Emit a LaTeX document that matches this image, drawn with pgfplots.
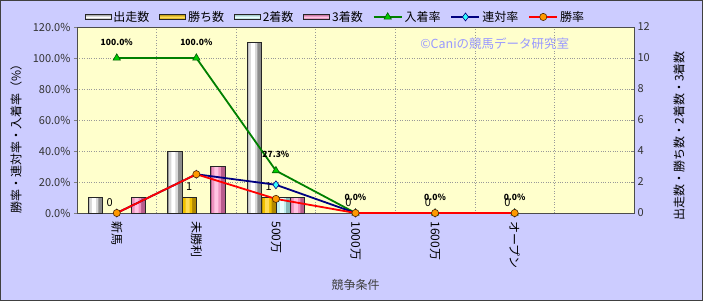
\documentclass[border=0pt]{standalone}
\usepackage{fontspec}
\setmainfont{Noto Sans CJK JP}
\usepackage{pgfplots}
\pgfplotsset{compat=1.18}
\definecolor{bgpurple}{HTML}{CCCCFF}
\definecolor{plotbg}{HTML}{FFFFCC}
\definecolor{grayE}{HTML}{8C8C8C}
\definecolor{grayM}{HTML}{D8D8D8}
\definecolor{grayL}{HTML}{FFFFFF}
\definecolor{goldE}{HTML}{B08800}
\definecolor{goldM}{HTML}{F0C000}
\definecolor{goldL}{HTML}{FFDD55}
\definecolor{cyanE}{HTML}{88B8B8}
\definecolor{cyanM}{HTML}{C4F0F0}
\definecolor{cyanL}{HTML}{EAFFFF}
\definecolor{pinkE}{HTML}{B85C8C}
\definecolor{pinkM}{HTML}{EE94C0}
\definecolor{pinkL}{HTML}{FFC4E2}
\definecolor{lgreen}{HTML}{00CC00}
\definecolor{dgreen}{HTML}{008000}
\definecolor{navy}{HTML}{000080}
\definecolor{lcyan}{HTML}{33FFFF}
\definecolor{lorange}{HTML}{FF9900}
\definecolor{copyc}{HTML}{9999FF}
\pgfplotsset{
 linelegend/.style={legend image code/.code={\draw[mark repeat=2,mark phase=2,##1] plot coordinates {(0bp,0bp) (14bp,0bp) (28bp,0bp)};}},
 barlegend/.style={legend image code/.code={\draw[##1] (0bp,-2.8bp) rectangle (26bp,2.8bp);}},
}
% shift, shift of highlight, edge, mid, light, coordinates
\newcommand\cylbar[6]{%
\addplot[bar shift=#1, bar width=14.3bp, draw=none, fill=#3] coordinates {#6};
\addplot[bar shift=#2, bar width=9bp, draw=none, fill=#4] coordinates {#6};
\addplot[bar shift=#2, bar width=4bp, draw=none, fill=#5] coordinates {#6};
\addplot[bar shift=#1, bar width=14.3bp, draw=black!85, line width=0.7bp, fill=none] coordinates {#6};
}
\begin{document}
\begin{tikzpicture}[font=\fontsize{11bp}{13bp}\selectfont]
\path[use as bounding box, fill=bgpurple] (-77bp,-88bp) rectangle (626bp,213bp);
\draw[line width=1.5bp, black!75] (-76.25bp,-87.25bp) rectangle (625.25bp,212.25bp);
\begin{axis}[
 at={(0,0)}, anchor=south west, scale only axis, width=557bp, height=186bp,
 xmin=-0.5, xmax=6.5, ymin=0, ymax=12,
 axis background/.style={fill=plotbg},
 axis line style={draw=black!70, line width=0.8bp},
 ybar=0pt, bar width=14.3bp,
 xtick={0,1,2,3,4,5}, xticklabels={新馬,未勝利,500万,1000万,1600万,オープン},
 x tick label style={rotate=-90, anchor=west, xshift=5bp, font=\fontsize{12bp}{14bp}\selectfont, text=black},
 major x tick style={draw=none},
 minor xtick={0.5,1.5,2.5,3.5,4.5,5.5}, minor x tick style={draw=none}, xminorgrids,
 ytick={0,2,...,12}, ytick pos=right, yticklabel pos=right, ymajorgrids,
 tick align=inside, major tick length=3bp,
 y tick label style={text=black!80},
 grid style={draw=gray!80, dotted, line width=0.7bp},
 minor grid style={draw=gray!80, dotted, line width=0.7bp},
 /pgf/number format/assume math mode=true,
 ylabel={出走数・勝ち数・2着数・3着数},
 ylabel style={at={(axis description cs:1.081,0.414)}, anchor=center, font=\fontsize{12bp}{14bp}\selectfont},
 xlabel={競争条件},
 xlabel style={at={(axis description cs:0.5,-0.387)}, anchor=center, font=\fontsize{12bp}{14bp}\selectfont, text=black!75},
]
% 出走数
\cylbar{-21.45bp}{-23bp}{grayE}{grayM}{grayL}{(0,1) (1,4) (2,11)}
% 勝ち数
\cylbar{-7.15bp}{-8.7bp}{goldE}{goldM}{goldL}{(1,1) (2,1)}
% 2着数
\cylbar{7.15bp}{5.6bp}{cyanE}{cyanM}{cyanL}{(2,1)}
% 3着数
\cylbar{21.45bp}{19.9bp}{pinkE}{pinkM}{pinkL}{(0,1) (1,3) (2,1)}
% 勝ち数 labels
\addplot[bar shift=-7.15bp, draw=none, fill=none, point meta=y, nodes near coords,
 every node near coord/.append style={font=\fontsize{11bp}{13bp}\selectfont, text=black, yshift=3bp}]
 coordinates {(0,0) (1,1) (2,1) (3,0) (4,0) (5,0)};
\end{axis}
\begin{axis}[
 at={(0,0)}, anchor=south west, scale only axis, width=557bp, height=186bp,
 xmin=-0.5, xmax=6.5, ymin=0, ymax=120, clip=false,
 axis x line=none, axis y line*=left,
 axis line style={draw=black!70, line width=0.8bp},
 ytick={0,20,...,120}, tick align=outside, major tick length=3bp,
 y tick label style={text=black!80},
 yticklabel={\pgfmathprintnumber[fixed,fixed zerofill,precision=1]{\tick}\%},
 /pgf/number format/assume math mode=true,
 ylabel={勝率・連対率・入着率（\%）},
 ylabel style={at={(axis description cs:-0.1095,0.414)}, anchor=center, font=\fontsize{12bp}{14bp}\selectfont},
 legend columns=-1,
 legend style={draw=none, fill=none, at={(axis description cs:0.464,1.054)}, anchor=center,
  font=\fontsize{12bp}{14bp}\selectfont, /tikz/every even column/.append style={column sep=8bp},
  inner sep=0pt},
 legend cell align=left,
]
\addlegendimage{barlegend, draw=black!85, line width=0.7bp, top color=grayE, bottom color=grayE, middle color=grayL}
\addlegendentry{出走数}
\addlegendimage{barlegend, draw=black!85, line width=0.7bp, top color=goldE, bottom color=goldE, middle color=goldL}
\addlegendentry{勝ち数}
\addlegendimage{barlegend, draw=black!85, line width=0.7bp, top color=cyanE, bottom color=cyanE, middle color=cyanL}
\addlegendentry{2着数}
\addlegendimage{barlegend, draw=black!85, line width=0.7bp, top color=pinkE, bottom color=pinkE, middle color=pinkL}
\addlegendentry{3着数}
% 入着率
\addplot[linelegend, color=dgreen, line width=1.8bp, mark=triangle*, mark size=4.2bp,
 mark options={fill=lgreen, draw=dgreen!70!black, line width=0.6bp},
 point meta=y,
 nodes near coords={\pgfmathprintnumber[fixed,fixed zerofill,precision=1]{\pgfplotspointmeta}\%},
 every node near coord/.append style={font=\fontsize{8.5bp}{10bp}\selectfont\bfseries, text=black, yshift=9bp}]
 coordinates {(0,100) (1,100) (2,27.3) (3,0) (4,0) (5,0)};
\addlegendentry{入着率}
% 連対率
\addplot[linelegend, color=navy, line width=1.8bp, mark=diamond*, mark size=4bp,
 mark options={fill=lcyan, draw=navy, line width=0.6bp}]
 coordinates {(0,0) (1,25) (2,18.2) (3,0) (4,0) (5,0)};
\addlegendentry{連対率}
% 勝率
\addplot[linelegend, color=red, line width=1.8bp, mark=*, mark size=3.6bp,
 mark options={fill=lorange, draw=black!70!orange, line width=0.6bp}]
 coordinates {(0,0) (1,25) (2,9.1) (3,0) (4,0) (5,0)};
\addlegendentry{勝率}
\node[text=copyc, font=\fontsize{12.5bp}{15bp}\selectfont] at (axis description cs:0.75,0.909) {©Caniの競馬データ研究室};
\end{axis}
\end{tikzpicture}
\end{document}
